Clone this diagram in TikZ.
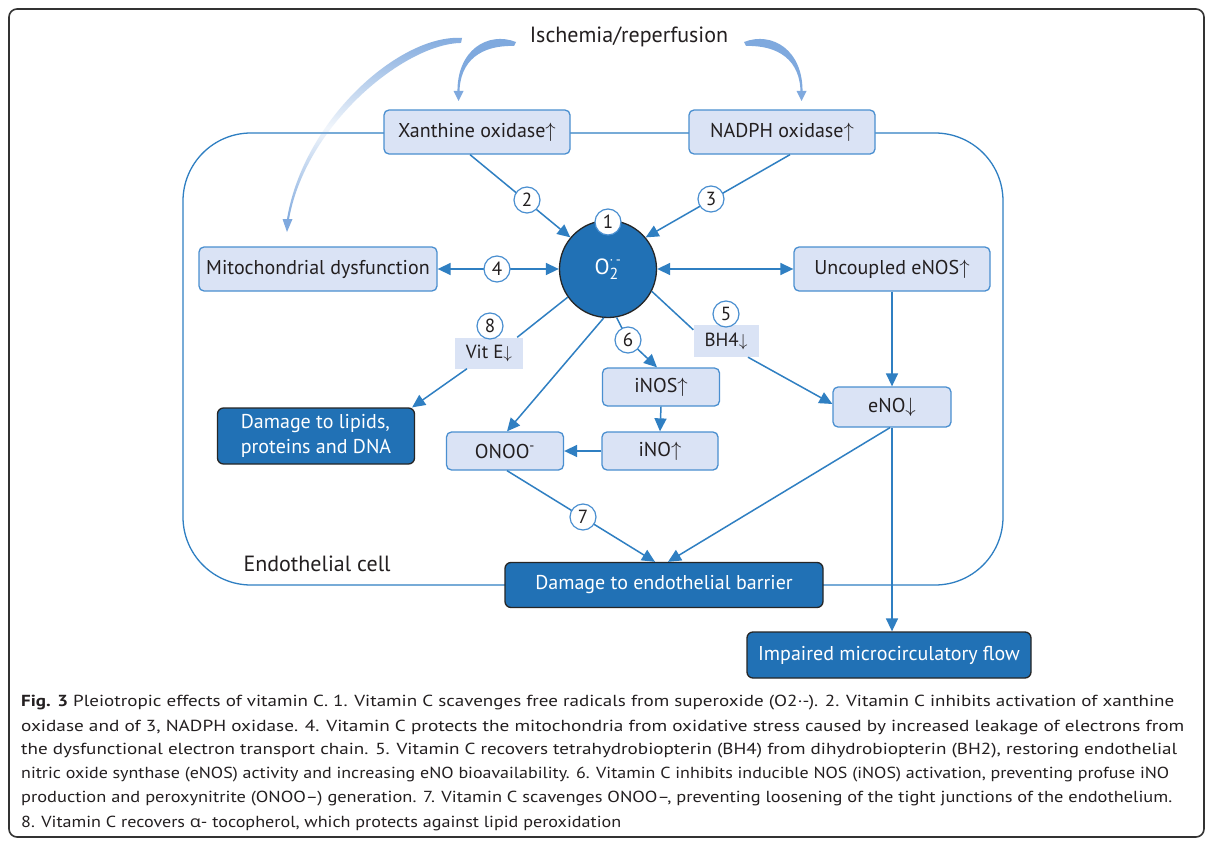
\documentclass[tikz,border=0pt]{standalone}
\usepackage{fontspec}
\setmainfont{PT Sans}
\newfontfamily\grk{Open Sans}
\usepackage{graphicx}
\usetikzlibrary{arrows.meta,calc,fadings}
\definecolor{lblue}{HTML}{DAE3F5}
\definecolor{bord}{HTML}{4A8FD0}
\definecolor{dblue}{HTML}{2171B5}
\definecolor{conn}{HTML}{2F7FC2}
\definecolor{swc}{HTML}{7FA9DE}
\definecolor{txt}{HTML}{231F20}
\tikzfading[name=midfade, top color=transparent!0, bottom color=transparent!0, middle color=transparent!90]
\begin{document}
\begin{tikzpicture}[x=1pt,y=-1pt,
 lbox/.style={draw=bord,fill=lblue,line width=1.3pt,rounded corners=5pt,inner sep=0pt,text=txt,font=\fontsize{20}{23}\selectfont},
 dbox/.style={draw=black!85,fill=dblue,line width=1.3pt,rounded corners=6pt,inner sep=0pt,text=white,font=\fontsize{20}{25}\selectfont},
 tag/.style={fill=lblue,inner sep=0pt,text=txt,font=\fontsize{19}{22}\selectfont},
 num/.style={circle,draw=bord,fill=white,line width=1.2pt,minimum size=26pt,inner sep=0pt,text=txt,font=\fontsize{19}{20}\selectfont},
 ln/.style={draw=conn,line width=1.5pt},
 ar/.style={ln,-{Triangle[length=13pt,width=12pt]}},
 dar/.style={ln,{Triangle[length=13pt,width=12pt]}-{Triangle[length=13pt,width=12pt]}},
 capl/.style={anchor=west,inner sep=0pt,text=txt,font=\fontsize{16}{18}\selectfont},
 sw/.style={fill=swc}
]
\useasboundingbox (0,0) rectangle (1211,843);
\fill[white] (0,0) rectangle (1211,843);
% outer frame
\draw[black!80,line width=1.6pt,rounded corners=8pt] (9,9) rectangle (1204,837);
% endothelial cell outline
\draw[conn,line width=1.3pt,rounded corners=68pt] (183,133) rectangle (1003,585);

% swooshes
\fill[sw] (516,42) .. controls (488,31) and (456,50) .. (457.5,94) -- (459.5,94) .. controls (459,60) and (482,45) .. (514,46) -- cycle;
\fill[sw] (453.5,91) -- (463.5,91) -- (458.5,101) -- cycle;
\fill[sw] (744,42) .. controls (772,31) and (804,50) .. (802.5,94) -- (800.5,94) .. controls (801,60) and (778,45) .. (746,46) -- cycle;
\fill[sw] (796.5,91) -- (806.5,91) -- (801.5,101) -- cycle;
\fill[sw,path fading=midfade] (462,38) .. controls (400,34) and (302,120) .. (286.5,222) -- (288.5,222) .. controls (304,126) and (404,44) .. (461,43) -- cycle;
\fill[sw] (282.5,219) -- (292.5,219) -- (287,232) -- cycle;

\node[text=txt,font=\fontsize{22}{25}\selectfont] (isch) at (629,37) {Ischemia/reperfusion};

% nodes
\node[lbox,minimum width=186pt,minimum height=44pt] (xan) at (477,132) {Xanthine oxidase$\uparrow$};
\node[lbox,minimum width=186pt,minimum height=44pt] (nad) at (782,132) {NADPH oxidase$\uparrow$};
\node[lbox,minimum width=238pt,minimum height=44pt] (mito) at (318,269) {Mitochondrial dysfunction};
\node[circle,fill=dblue,draw=black!85,line width=1.3pt,minimum size=97pt,inner sep=0pt,text=white,font=\fontsize{22}{25}\selectfont] (o2) at (608,269) {O$_{\mbox{\fontsize{16}{16}\selectfont 2}}^{\mbox{\fontsize{14}{14}\selectfont\raisebox{2pt}{·\,-}}}$};
\node[lbox,minimum width=196pt,minimum height=44pt] (unc) at (892,269) {Uncoupled eNOS$\uparrow$};
\node[tag,minimum width=68pt,minimum height=31pt] (vite) at (489,353) {Vit E$\downarrow$};
\node[tag,minimum width=65pt,minimum height=32pt] (bh4) at (726,341) {BH4$\downarrow$};
\node[dbox,minimum width=197pt,minimum height=56pt,align=left] (lip) at (316,436) {Damage to lipids,\\proteins and DNA};
\node[lbox,minimum width=117pt,minimum height=38pt] (onoo) at (505,451) {ONOO\textsuperscript{-}};
\node[lbox,minimum width=117pt,minimum height=38pt] (inos) at (661,387) {iNOS$\uparrow$};
\node[lbox,minimum width=116pt,minimum height=38pt] (ino) at (660,451) {iNO$\uparrow$};
\node[lbox,minimum width=118pt,minimum height=40pt] (eno) at (892,407) {eNO$\downarrow$};
\node[dbox,minimum width=318pt,minimum height=45pt] (bar) at (664,585) {Damage to endothelial barrier};
\node[dbox,minimum width=284pt,minimum height=46pt] (imp) at (889,655) {Impaired microcirculatory flow};
\node[text=txt,font=\fontsize{22}{25}\selectfont,anchor=west] (cell) at (240,564) {Endothelial cell};

% connectors
\draw[ar] ($(xan.south)+(-7,0)$) -- (o2.140);
\draw[ar] ($(nad.south)+(8,0)$) -- (o2.40);
\draw[dar] (mito.east) -- (o2.west);
\draw[dar] (o2.east) -- (unc.west);
\draw[ar] (unc.south) -- (eno.north);
\draw[ln] (o2.-27) -- ($(bh4.north west)+(0,5)$);
\draw[ar] ($(bh4.south)+(22,0)$) -- ($(eno.west)+(0,-3)$);
\draw[ln] (o2.215) -- ($(vite.north east)+(-6,0)$);
\draw[ar] ($(vite.south)+(-22,0)$) -- ($(lip.north east)+(-3,0)$);
\draw[ar] (o2.265) -- ($(onoo.north)+(2,0)$);
\coordinate (c6p) at (628,340);
\draw[ln] (o2.280) -- (c6p);
\draw[ar] (c6p) -- ($(inos.north)+(-4,0)$);
\draw[ar] (inos.south) -- (ino.north);
\draw[ar] (ino.west) -- (onoo.east);
\draw[ar] ($(onoo.south)+(2,0)$) -- ($(bar.north)+(-9,0)$);
\draw[ar] ($(eno.south)+(-2,0)$) -- ($(bar.north)+(4,0)$);
\draw[ar] (eno.south) -- (eno.south |- imp.north);

% number circles
\node[num] (n1) at (608,222) {1};
\node[num] (n2) at (527,200) {2};
\node[num] (n3) at (711,199) {3};
\node[num] (n4) at (497,269) {4};
\node[num] (n5) at (726,314) {5};
\node[num] (n6) at (c6p) {6};
\node[num] (n7) at (583,517) {7};
\node[num] (n8) at (490,326) {8};

% caption
\node[capl] (cap1) at (21,703) {\resizebox{1153pt}{\height}{\textbf{Fig. 3} Pleiotropic effects of vitamin C. 1. Vitamin C scavenges free radicals from superoxide (O2·-). 2. Vitamin C inhibits activation of xanthine}};
\node[capl] (cap2) at (21,727) {\resizebox{1163pt}{\height}{oxidase and of 3, NADPH oxidase. 4. Vitamin C protects the mitochondria from oxidative stress caused by increased leakage of electrons from}};
\node[capl] (cap3) at (21,751) {\resizebox{1156pt}{\height}{the dysfunctional electron transport chain. 5. Vitamin C recovers tetrahydrobiopterin (BH4) from dihydrobiopterin (BH2), restoring endothelial}};
\node[capl] (cap4) at (21,775) {\resizebox{1148pt}{\height}{nitric oxide synthase (eNOS) activity and increasing eNO bioavailability. 6. Vitamin C inhibits inducible NOS (iNOS) activation, preventing profuse iNO}};
\node[capl] (cap5) at (21,799) {\resizebox{1151pt}{\height}{production and peroxynitrite (ONOO–) generation. 7. Vitamin C scavenges ONOO–, preventing loosening of the tight junctions of the endothelium.}};
\node[capl] (cap6) at (21,823) {\resizebox{600pt}{\height}{8. Vitamin C recovers {\grk α}- tocopherol, which protects against lipid peroxidation}};
\end{tikzpicture}
\end{document}
